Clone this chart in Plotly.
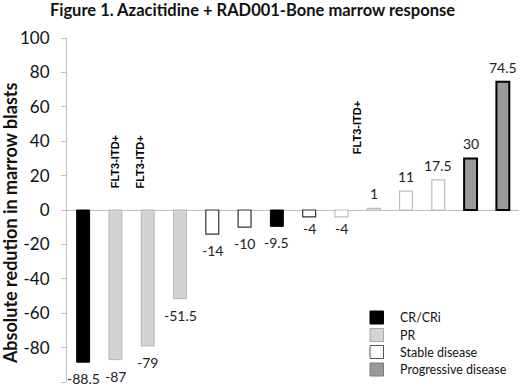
import plotly.graph_objects as go

values = [-88.5, -87, -79, -51.5, -14, -10, -9.5, -4, -4, 1, 11, 17.5, 30, 74.5]
response = ["CR/CRi", "PR", "PR", "PR", "Stable disease", "Stable disease", "CR/CRi",
            "Stable disease", "Stable disease", "Stable disease", "Stable disease",
            "Stable disease", "Progressive disease", "Progressive disease"]
value_labels = ["-88.5", "-87", "-79", "-51.5", "-14", "-10", "-9.5", "-4", "-4", "1", "11", "17.5", "30", "74.5"]
flt3_patients = [2, 3, 10]
flt3_y = [28, 28, 48]
y_ticks = [100, 80, 60, 40, 20, 0, -20, -40, -60, -80, -100]
y_ticktext = ["100", "80", "60", "40", "20", "0", "-20", "-40", "-60", "-80", "-100"]
categories = ["CR/CRi", "PR", "Stable disease", "Progressive disease"]

fill = {"CR/CRi": "#000000", "PR": "#d3d3d3", "Stable disease": "#ffffff", "Progressive disease": "#999999"}
edge = {"CR/CRi": "#000000", "PR": "#b5b5b5", "Stable disease": "#333333", "Progressive disease": "#000000"}
edge_w = {"CR/CRi": 1, "PR": 1, "Stable disease": 1.2, "Progressive disease": 2}
light_edge_stable = [9, 10, 11, 12]

patients = list(range(1, len(values) + 1))
fig = go.Figure()
for cat in categories:
    xs = [p for p, r in zip(patients, response) if r == cat]
    ys = [v for v, r in zip(values, response) if r == cat]
    lc = [("#bdbdbd" if (cat == "Stable disease" and p in light_edge_stable) else edge[cat]) for p in xs]
    fig.add_trace(go.Bar(x=xs, y=ys, marker=dict(color=fill[cat], line=dict(color=lc, width=edge_w[cat])),
                         width=0.4, showlegend=False, hoverinfo="skip"))

ann = []
for p, v, t in zip(patients, values, value_labels):
    if v >= 0:
        ann.append(dict(x=p, y=v, text=t, showarrow=False, yanchor="bottom", yshift=4,
                        font=dict(family="Lato", size=14, color="#222")))
    else:
        ann.append(dict(x=p, y=v, text=t, showarrow=False, yanchor="top", yshift=(-6 if v < -5 else -1),
                        font=dict(family="Lato", size=14, color="#222")))
for p, yv in zip(flt3_patients, flt3_y):
    ann.append(dict(x=p, y=yv, text="<b>FLT3-ITD+</b>", textangle=-90, showarrow=False,
                    xshift=(-1 if p == 2 else (-8 if p == 3 else -16)),
                    font=dict(family="Liberation Sans", size=11, color="#000")))
ann.append(dict(xref="paper", yref="paper", x=-0.126, y=0.462, text="<b>Absolute redution in marrow blasts</b>",
                textangle=-90, showarrow=False, xanchor="center", yanchor="middle",
                font=dict(family="Lato", size=18, color="#111")))

# manual legend (pixel layout converted to paper fractions)
L, T, W, H = 67, 38, 452, 344
def px(xp):
    return (xp - L) / W
def py(yp):
    return (T + H - yp) / H

legend_edge = {"CR/CRi": "#000000", "PR": "#a8a8a8", "Stable disease": "#555555", "Progressive disease": "#7a7a7a"}
legend_rows = [317.5, 335, 352, 369.5]
shapes = []
for cat, yc in zip(categories, legend_rows):
    shapes.append(dict(type="rect", xref="paper", yref="paper", x0=px(370), x1=px(383.5),
                       y0=py(yc + 6.5), y1=py(yc - 6.5), fillcolor=fill[cat],
                       line=dict(color=legend_edge[cat], width=1)))
    ann.append(dict(xref="paper", yref="paper", x=px(398), y=py(yc), text=cat, showarrow=False,
                    xanchor="left", yanchor="middle", font=dict(family="Lato", size=12.5, color="#111")))

fig.update_layout(
    width=520, height=389,
    margin=dict(l=L, r=520 - L - W, t=T, b=389 - T - H),
    paper_bgcolor="white", plot_bgcolor="white",
    barmode="overlay",
    showlegend=False,
    title=dict(text="<b>Figure 1. Azacitidine + RAD001-Bone marrow response</b>", x=252.5 / 520, xanchor="center",
               y=1 - 10 / 389, yanchor="middle", font=dict(family="Lato", size=16.5, color="#111")),
    xaxis=dict(range=[0.5, 14.5], showticklabels=False, showgrid=False, zeroline=False, showline=False, ticks=""),
    yaxis=dict(range=[-100, 100], tickvals=y_ticks, ticktext=y_ticktext, showgrid=False, zeroline=True,
               zerolinecolor="#bfbfbf", zerolinewidth=1, showline=True, linecolor="#bfbfbf", linewidth=1,
               ticks="outside", ticklen=5, tickcolor="#bfbfbf", ticklabelstandoff=8,
               tickfont=dict(family="Lato", size=17, color="#111")),
    shapes=shapes,
    annotations=ann,
)
fig.write_html("out.html", config={"displayModeBar": False},
               post_script="document.body.style.margin='0';document.body.style.overflow='hidden';")
